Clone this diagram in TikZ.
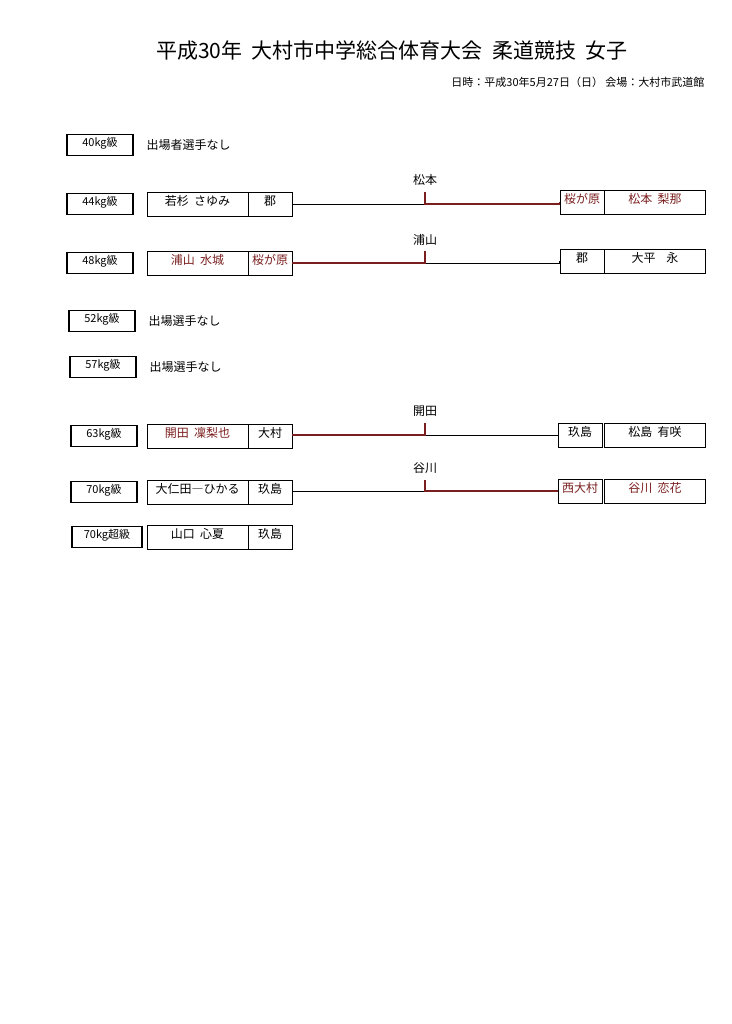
\documentclass[tikz,border=0pt]{standalone}
\usepackage{fontspec}
\setmainfont{Noto Sans CJK JP}
\begin{document}
\begin{tikzpicture}[x=1pt,y=-1pt,
  wbox/.style={draw,line width=1.6pt,minimum width=66pt,minimum height=21pt,inner sep=0pt,text height=6.5pt,text depth=3pt,font=\fontsize{11}{13}\selectfont},
  nbox/.style={draw,line width=0.8pt,minimum width=101pt,minimum height=24pt,inner sep=0pt,text height=7pt,text depth=3.5pt,font=\fontsize{12}{14}\selectfont},
  sbox/.style={draw,line width=0.8pt,minimum width=44pt,minimum height=24pt,inner sep=0pt,text height=7pt,text depth=3.5pt,font=\fontsize{12}{14}\selectfont},
  win/.style={text=winc},
  lose/.style={draw=black,line width=0.7pt},
  wline/.style={draw=winc,line width=1.3pt},
  lbl/.style={font=\fontsize{12}{14}\selectfont},
  plain/.style={font=\fontsize{12}{14}\selectfont,anchor=west}]
\definecolor{winc}{HTML}{7A1E1E}
\useasboundingbox (0,0) rectangle (731,1024);
\node[font=\fontsize{21}{25}\selectfont] (title) at (392,51) {平成30年\ \ 大村市中学総合体育大会\ \ 柔道競技\ \ 女子};
\node[font=\fontsize{11}{13}\selectfont,anchor=east] (sub) at (708,82) {日時：平成30年5月27日（日）\ 会場：大村市武道館};
% 40
\node[wbox] (w40) at (100,145) {40kg級};
\node[plain] (t40) at (143,145) {出場者選手なし};
% 44
\node[wbox] (w44) at (100,204) {44kg級};
\node[nbox] (l44) at (197.5,204) {若杉\ \ さゆみ};
\node[sbox] (ls44) at (270,204) {郡};
\node[sbox,win] (rs44) at (582,202) {桜が原};
\node[nbox,win] (r44) at (655,202) {松本\ \ 梨那};
\coordinate (c44) at (425,204);
\coordinate (t44) at (425,192);
\draw[lose] (ls44.east) -- (c44);
\draw[wline] (t44) -- (c44) -- (rs44.west |- c44) -- (rs44.west);
\node[lbl] (m44) at (425,180) {松本};
% 48
\node[wbox] (w48) at (100,263) {48kg級};
\node[nbox,win] (l48) at (197.5,263) {浦山\ \ 水城};
\node[sbox,win] (ls48) at (270,263) {桜が原};
\node[sbox] (rs48) at (582,261) {郡};
\node[nbox] (r48) at (655,261) {大平\ \ \ \ 永};
\coordinate (c48) at (425,263);
\coordinate (t48) at (425,251);
\draw[lose] (c48) -- (rs48.west |- c48) -- (rs48.west);
\draw[wline] (ls48.east) -- (c48) -- (t48);
\node[lbl] (m48) at (425,240) {浦山};
% 52, 57
\node[wbox] (w52) at (102,321) {52kg級};
\node[plain] (t52) at (145,321) {出場選手なし};
\node[wbox] (w57) at (103,367) {57kg級};
\node[plain] (t57) at (146,367) {出場選手なし};
% 63
\node[wbox] (w63) at (104,436) {63kg級};
\node[nbox,win] (l63) at (197.5,436) {開田\ \ 凜梨也};
\node[sbox] (ls63) at (270,436) {大村};
\node[sbox] (rs63) at (580,435) {玖島};
\node[nbox] (r63) at (655,435) {松島\ \ 有咲};
\coordinate (c63) at (425,435);
\coordinate (t63) at (425,423);
\draw[lose] (c63) -- (rs63.west);
\draw[wline] (ls63.east) -- (ls63.east |- c63) -- (c63) -- (t63);
\node[lbl] (m63) at (425,411) {開田};
% 70
\node[wbox] (w70) at (104,492) {70kg級};
\node[nbox] (l70) at (197.5,492) {大仁田―ひかる};
\node[sbox] (ls70) at (270,492) {玖島};
\node[sbox,win] (rs70) at (580,491) {西大村};
\node[nbox,win] (r70) at (655,491) {谷川\ \ 恋花};
\coordinate (c70) at (425,491);
\coordinate (t70) at (425,480);
\draw[lose] (ls70.east) -- (ls70.east |- c70) -- (c70);
\draw[wline] (t70) -- (c70) -- (rs70.west);
\node[lbl] (m70) at (425,468) {谷川};
% 70+
\node[wbox,minimum width=70pt] (w70p) at (107,537) {70kg超級};
\node[nbox] (l70p) at (197.5,537) {山口\ \ 心夏};
\node[sbox] (ls70p) at (270,537) {玖島};
\end{tikzpicture}
\end{document}
